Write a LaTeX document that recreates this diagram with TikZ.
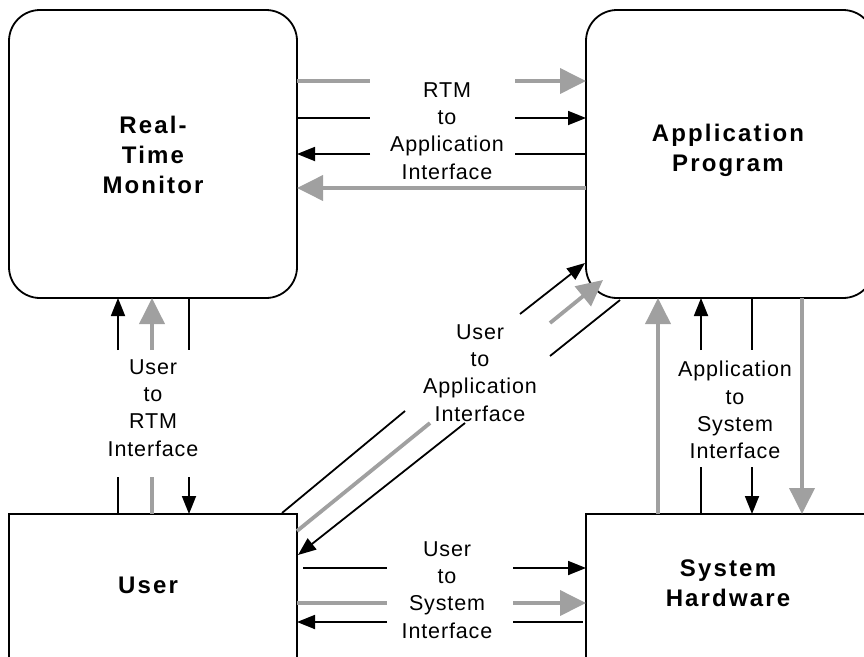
\documentclass[tikz,border=0pt]{standalone}
\usepackage{fontspec}
\setmainfont{Liberation Sans}
\newfontfamily\lblfont[LetterSpace=4]{Liberation Sans}
\newfontfamily\titlefont[LetterSpace=9]{Liberation Sans}
\usetikzlibrary{arrows.meta,calc}
\definecolor{arrowgray}{HTML}{A0A0A0}
\tikzset{
  box/.style={draw, line width=1.8pt, inner sep=0pt, outer sep=0pt},
  title/.style={font=\titlefont\bfseries\fontsize{24}{30}\selectfont, align=center},
  lbl/.style={font=\lblfont\fontsize{21.5}{27.3}\selectfont, align=center, inner sep=0pt},
  bl/.style={line width=1.8pt, black},
  gl/.style={line width=3.8pt, arrowgray},
  bh/.style={-{Triangle[length=18pt,width=14pt]}},
  gh/.style={-{Triangle[length=26pt,width=25pt]}},
}
\begin{document}
\begin{tikzpicture}[x=1pt, y=-1pt]
\useasboundingbox (0,0) rectangle (864,656);
\clip (0,0) rectangle (864,656);

% the four blocks
\node[box, rounded corners=31pt, minimum width=288pt, minimum height=288pt] (rtm) at (153,154) {};
\node[box, rounded corners=31pt, minimum width=288pt, minimum height=288pt] (app) at (730,154) {};
\node[box, minimum width=288pt, minimum height=300pt] (usr) at (153,664) {};
\node[box, minimum width=288pt, minimum height=300pt] (sys) at (730,664) {};

\node[title] (rtmtxt) at (153,155) {Real-\\Time\\Monitor};
\node[title] (apptxt) at (728,150) {Application\\Program};
\node[title] (usrtxt) at (148,585) {User};
\node[title] (systxt) at (728,583) {System\\Hardware};

% interface labels
\node[lbl] (ra) at (447,131) {RTM\\to\\Application\\Interface};
\node[lbl] (ur) at (153,408) {User\\to\\RTM\\Interface};
\node[lbl] (as) at (735,410) {Application\\to\\System\\Interface};
\node[lbl] (us) at (447,590) {User\\to\\System\\Interface};
\node[lbl] (ua) at (480,373) {User\\to\\Application\\Interface};

% RTM <-> application program
\draw[gl] (rtm.east |- 0,81) -- (370,81);
\draw[gl,gh] (515,81) -- (app.west |- 0,81);
\draw[bl] (rtm.east |- 0,118) -- (370,118);
\draw[bl,bh] (515,118) -- (app.west |- 0,118);
\draw[bl,bh] (370,154) -- (rtm.east |- 0,154);
\draw[bl] (515,154) -- (app.west |- 0,154);
\draw[gl,gh] (app.west |- 0,188) -- (rtm.east |- 0,188);

% user <-> RTM
\draw[bl,bh] (118,350) -- (rtm.south -| 118,0);
\draw[bl] (118,477) -- (usr.north -| 118,0);
\draw[gl,gh] (152,350) -- (rtm.south -| 152,0);
\draw[gl] (152,477) -- (usr.north -| 152,0);
\draw[bl] (rtm.south -| 189,0) -- (189,350);
\draw[bl,bh] (189,477) -- (usr.north -| 189,0);

% application program <-> system hardware
\draw[gl,gh] (sys.north -| 658,0) -- (app.south -| 658,0);
\draw[bl,bh] (701,350) -- (app.south -| 701,0);
\draw[bl] (701,467) -- (sys.north -| 701,0);
\draw[bl] (app.south -| 752,0) -- (752,350);
\draw[bl,bh] (752,467) -- (sys.north -| 752,0);
\draw[gl,gh] (app.south -| 802,0) -- (sys.north -| 802,0);

% user <-> system hardware
\draw[bl] (303,568) -- (387,568);
\draw[bl,bh] (513,568) -- (sys.west |- 0,568);
\draw[gl] (usr.east |- 0,603) -- (387,603);
\draw[gl,gh] (513,603) -- (sys.west |- 0,603);
\draw[bl,bh] (387,622) -- (usr.east |- 0,622);
\draw[bl] (513,622) -- (583,622);

% user <-> application program (diagonal)
\coordinate (ua1s) at (282,513);
\coordinate (ua1e) at (585,263);
\coordinate (ua2s) at (297,531);
\coordinate (ua2e) at (603,280);
\coordinate (ua3s) at (620,300);
\coordinate (ua3e) at (298,555);
\draw[bl] (ua1s) -- (405,411);
\draw[bl,bh] (520,314) -- (ua1e);
\draw[gl] (ua2s) -- (430,423);
\draw[gl,gh] (550,323) -- (ua2e);
\draw[bl] (ua3s) -- (550,356);
\draw[bl,bh] (465,423) -- (ua3e);
\end{tikzpicture}
\end{document}
